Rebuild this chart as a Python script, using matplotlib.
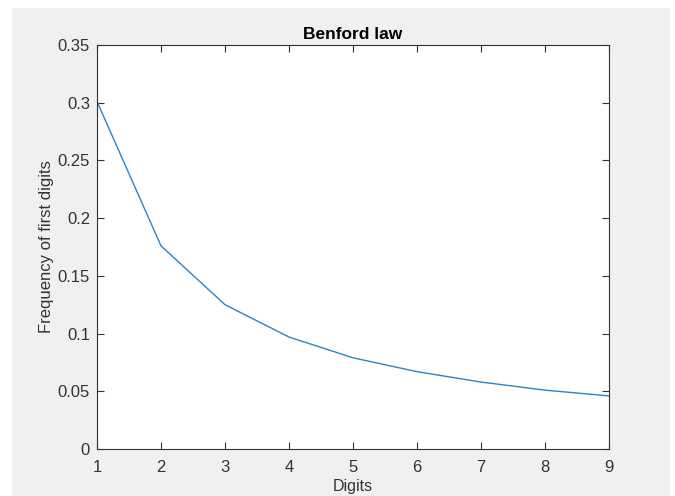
import matplotlib
matplotlib.use('Agg')
import matplotlib.pyplot as plt
from matplotlib.patches import Rectangle

digits = [1, 2, 3, 4, 5, 6, 7, 8, 9]
freq = [0.301, 0.176, 0.125, 0.097, 0.079, 0.067, 0.058, 0.051, 0.046]
yticks = [0, 0.05, 0.1, 0.15, 0.2, 0.25, 0.3, 0.35]
ytick_labels = ['0', '0.05', '0.1', '0.15', '0.2', '0.25', '0.3', '0.35']

plt.rcParams['font.family'] = ['Liberation Sans', 'DejaVu Sans']

fig = plt.figure(figsize=(6.75, 4.96), dpi=100, facecolor='white')
# grey matlab-style figure background, with thin white margin top/left/right
fig.patches.append(Rectangle((12 / 675, 0), (670 - 12) / 675, (496 - 8) / 496,
                             transform=fig.transFigure, facecolor='#f0f0f0',
                             edgecolor='none', zorder=-10))

ax = fig.add_axes([97 / 675, 47 / 496, (609 - 97) / 675, (449 - 45) / 496])
ax.plot(digits, freq, color='#2a84c6', lw=1.0)

ax.set_xlim(1, 9)
ax.set_ylim(0, 0.35)
ax.set_xticks(digits)
ax.set_yticks(yticks)
ax.set_yticklabels(ytick_labels)

ax.tick_params(direction='in', length=5, width=0.8, colors='#333333',
               labelsize=12, top=True, right=True, pad=5)
ax.tick_params(axis='x', pad=8)
for s in ax.spines.values():
    s.set_color('#333333')
    s.set_linewidth(0.8)

ax.set_title('Benford law', fontsize=12.5, fontweight='bold', color='black', pad=4)
ax.set_xlabel('Digits', fontsize=11.5, color='#333333', labelpad=3)
ax.set_ylabel('Frequency of first digits', fontsize=12, color='#333333', labelpad=3)

fig.savefig('out.png', dpi=100, facecolor=fig.get_facecolor())
